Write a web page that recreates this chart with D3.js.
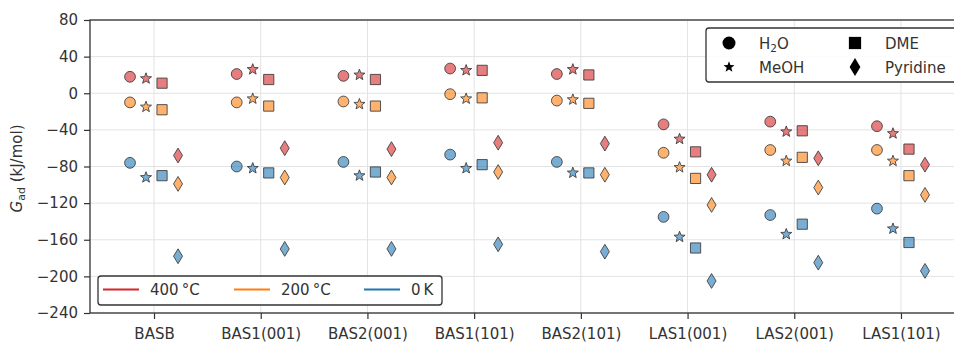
<!DOCTYPE html>
<html>
<head>
<meta charset="utf-8">
<script src="https://cdn.jsdelivr.net/npm/d3@7"></script>
<style>
  body { margin: 0; background: #fff; overflow: hidden; }
  svg { display: block; font-family: "DejaVu Sans", sans-serif; }
</style>
</head>
<body>
<svg id="chart" width="954" height="343"></svg>
<script>
const categories = ['BASB', 'BAS1(001)', 'BAS2(001)', 'BAS1(101)', 'BAS2(101)', 'LAS1(001)', 'LAS2(001)', 'LAS1(101)'];
const yTicks = [80, 40, 0, -40, -80, -120, -160, -200, -240];

// 400 °C
const h2o400 = [18, 21, 19, 27, 21, -34, -31, -36];
const meoh400 = [16, 26, 20, 25, 26, -50, -42, -44];
const dme400 = [11, 15, 15, 25, 20, -64, -41, -61];
const pyr400 = [-68, -60, -61, -54, -55, -89, -71, -78];
// 200 °C
const h2o200 = [-10, -10, -9, -1, -8, -65, -62, -62];
const meoh200 = [-15, -6, -12, -6, -7, -81, -74, -74];
const dme200 = [-18, -14, -14, -5, -11, -93, -70, -90];
const pyr200 = [-99, -92, -92, -86, -89, -122, -103, -111];
// 0 K
const h2o0 = [-76, -80, -75, -67, -75, -135, -133, -126];
const meoh0 = [-92, -82, -90, -82, -87, -157, -154, -148];
const dme0 = [-90, -87, -86, -78, -87, -169, -143, -163];
const pyr0 = [-178, -170, -170, -165, -173, -205, -185, -194];

const temps = ['400 °C', '200 °C', '0 K'];
const tempColors = ['#d62728', '#ff7f0e', '#1f77b4'];
const seriesByTemp = [
  [h2o400, meoh400, dme400, pyr400],
  [h2o200, meoh200, dme200, pyr200],
  [h2o0, meoh0, dme0, pyr0]
];
const offsets = [-0.225, -0.075, 0.075, 0.225];

const svg = d3.select('#chart');
const mLeft = 90, mRight = 965, mTop = 20, mBottom = 313;
const fontSize = '15px';

const x = d3.scaleLinear().domain([-0.6, 7.6]).range([mLeft, mRight]);
const y = d3.scaleLinear().domain([-240, 80]).range([mBottom, mTop]);

// marker shapes (path strings centred on 0,0)
function starPath(R) {
  const r = R * 0.42;
  let p = '';
  for (let i = 0; i < 10; i++) {
    const a = -Math.PI / 2 + i * Math.PI / 5;
    const rr = i % 2 === 0 ? R : r;
    p += (i === 0 ? 'M' : 'L') + (rr * Math.cos(a)).toFixed(2) + ',' + (rr * Math.sin(a)).toFixed(2);
  }
  return p + 'Z';
}
const shapes = [
  s => d3.symbol(d3.symbolCircle, Math.PI * (5.4 * s) ** 2)(),
  s => starPath(5.8 * s),
  s => { const h = 5.1 * s; return `M${-h},${-h}H${h}V${h}H${-h}Z`; },
  s => { const w = 4.5 * s, h = 7.4 * s; return `M0,${-h}L${w},0L0,${h}L${-w},0Z`; }
];

// grid
svg.append('g')
  .selectAll('line')
  .data(yTicks)
  .join('line')
  .attr('x1', mLeft).attr('x2', mRight)
  .attr('y1', d => y(d)).attr('y2', d => y(d))
  .attr('stroke', '#e3e3e3').attr('stroke-width', 1);
svg.append('g')
  .selectAll('line')
  .data(categories)
  .join('line')
  .attr('x1', (d, i) => x(i)).attr('x2', (d, i) => x(i))
  .attr('y1', mTop).attr('y2', mBottom)
  .attr('stroke', '#e3e3e3').attr('stroke-width', 1);

// markers
const marks = svg.append('g');
seriesByTemp.forEach((group, t) => {
  group.forEach((vals, k) => {
    marks.append('g')
      .selectAll('path')
      .data(vals)
      .join('path')
      .attr('d', shapes[k](1))
      .attr('transform', (v, i) => `translate(${x(i + offsets[k])},${y(v)})`)
      .attr('fill', tempColors[t])
      .attr('fill-opacity', 0.6)
      .attr('stroke', '#3a3a3a')
      .attr('stroke-opacity', 0.85)
      .attr('stroke-width', 1);
  });
});

// axes
const yAxis = d3.axisLeft(y).tickValues(yTicks).tickSize(6).tickPadding(6)
  .tickFormat(d => d < 0 ? '\u2212' + Math.abs(d) : d);
const gy = svg.append('g').attr('transform', `translate(${mLeft},0)`).call(yAxis);
const xAxis = d3.axisBottom(x).tickValues(d3.range(categories.length)).tickSize(6).tickPadding(9)
  .tickFormat(i => categories[i]);
const gx = svg.append('g').attr('transform', `translate(0,${mBottom})`).call(xAxis);
[gx, gy].forEach(g => {
  g.select('.domain').remove();
  g.selectAll('.tick line').attr('stroke', '#333').attr('stroke-width', 1.2);
  g.selectAll('.tick text').attr('fill', '#333').style('font-size', fontSize).style('font-family', '"DejaVu Sans", sans-serif');
});

// spines
svg.append('rect')
  .attr('x', mLeft).attr('y', mTop)
  .attr('width', mRight - mLeft).attr('height', mBottom - mTop)
  .attr('fill', 'none').attr('stroke', '#333').attr('stroke-width', 1.3);

// y label
const yl = svg.append('text')
  .attr('transform', `translate(22,${(mTop + mBottom) / 2 + 2}) rotate(-90)`)
  .attr('text-anchor', 'middle')
  .attr('fill', '#333')
  .style('font-size', '15px');
yl.append('tspan').text('G').style('font-style', 'italic');
yl.append('tspan').text('ad').attr('baseline-shift', '-25%').style('font-size', '11px');
yl.append('tspan').text(' (kJ/mol)');

// adsorbate legend (top right)
const lg1 = svg.append('g');
lg1.append('rect')
  .attr('x', 706).attr('y', 28).attr('width', 260).attr('height', 54).attr('rx', 3)
  .attr('fill', '#fff').attr('fill-opacity', 0.85).attr('stroke', '#333').attr('stroke-width', 1.3);
const adsLabels = ['H2O', 'MeOH', 'DME', 'Pyridine'];
const adsPos = [[729, 43], [729, 67], [855, 43], [855, 67]];
adsLabels.forEach((name, k) => {
  const [px, py] = adsPos[k];
  lg1.append('path').attr('d', shapes[k](k === 1 ? 1.0 : 1.2)).attr('transform', `translate(${px},${py})`).attr('fill', '#000');
  const t = lg1.append('text').attr('x', px + 30).attr('y', py + 5.5).attr('fill', '#333').style('font-size', fontSize);
  if (name === 'H2O') {
    t.append('tspan').text('H');
    t.append('tspan').text('2').attr('baseline-shift', '-25%').style('font-size', '10.5px');
    t.append('tspan').text('O');
  } else {
    t.text(name);
  }
});

// temperature legend (bottom left)
const lg2 = svg.append('g');
lg2.append('rect')
  .attr('x', 98).attr('y', 276).attr('width', 344).attr('height', 29).attr('rx', 3)
  .attr('fill', '#fff').attr('fill-opacity', 0.85).attr('stroke', '#333').attr('stroke-width', 1.3);
const tempX = [103, 234, 364];
temps.forEach((name, t) => {
  lg2.append('line')
    .attr('x1', tempX[t]).attr('x2', tempX[t] + 36)
    .attr('y1', 289.5).attr('y2', 289.5)
    .attr('stroke', tempColors[t]).attr('stroke-width', 2.2);
  lg2.append('text').attr('x', tempX[t] + 47).attr('y', 295)
    .attr('fill', '#333').style('font-size', fontSize).text(name.replace(' ', '\u2009'));
});
</script>
</body>
</html>
